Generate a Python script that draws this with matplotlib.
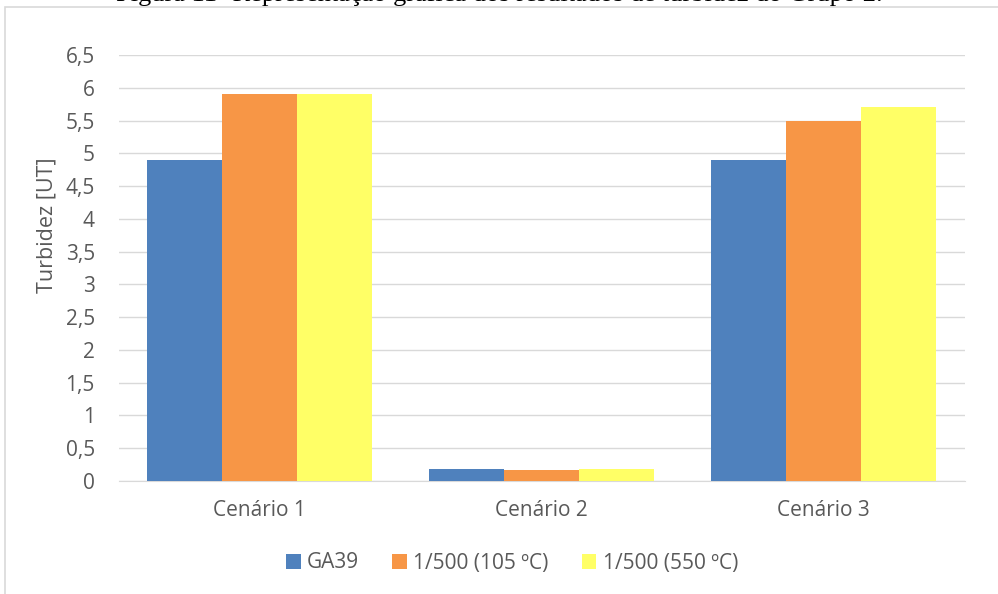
import numpy as np
import matplotlib.pyplot as plt
from matplotlib.patches import Rectangle

cenarios = ["Cenário 1", "Cenário 2", "Cenário 3"]
series = ["GA39", "1/500 (105 ºC)", "1/500 (550 ºC)"]
ga39 = [4.9, 0.18, 4.9]
c105 = [5.9, 0.17, 5.5]
c550 = [5.9, 0.18, 5.7]
yticks = [0, 0.5, 1, 1.5, 2, 2.5, 3, 3.5, 4, 4.5, 5, 5.5, 6, 6.5]
cores = ["#4F81BD", "#F79646", "#FFFF66"]

plt.rcParams['font.family'] = ['Open Sans', 'DejaVu Sans']
W, H = 998, 594
fig = plt.figure(figsize=(W / 100, H / 100), dpi=100)

# moldura do gráfico (cortada à direita e embaixo)
fig.patches.append(Rectangle((5 / W, -0.1), 1.2, 1 - 7 / H + 0.1, transform=fig.transFigure,
                             fill=False, edgecolor="#D9D9D9", linewidth=1.2))

# legenda da figura, cortada no topo como no original
fig.text(0.5, 1 - 0.5 / H, "Figura 11- Representação gráfica dos resultados de turbidez do Grupo 2.",
         ha="center", va="baseline", fontsize=19, family="Liberation Serif", color="black")

ax = fig.add_axes([118.5 / W, (H - 481) / H, (964.5 - 118.5) / W, (481 - 55) / H])
x = np.arange(len(cenarios))
w = 0.8 / 3
for i, (nome, vals) in enumerate(zip(series, [ga39, c105, c550])):
    ax.bar(x + (i - 1) * w, vals, w, color=cores[i], label=nome, zorder=3)

ax.set_xlim(-0.5, 2.5)
ax.set_ylim(0, 6.5)
ax.set_yticks(yticks)
ax.set_yticklabels([("%g" % v).replace(".", ",") for v in yticks])
ax.set_xticks(x)
ax.set_xticklabels(cenarios)
ax.grid(axis="y", color="#D9D9D9", linewidth=1, zorder=0)
for s in ["top", "right", "left"]:
    ax.spines[s].set_visible(False)
ax.spines["bottom"].set_color("#D9D9D9")
ax.tick_params(length=0, colors="#595959", labelsize=15)
ax.tick_params(axis="y", pad=17)
ax.tick_params(axis="x", pad=14)
ax.set_ylabel("Turbidez [UT]", fontsize=15.5, color="#595959")
ax.yaxis.set_label_coords(-0.072, 0.6)

ax.legend(loc="center", bbox_to_anchor=(512 / W, 1 - 563 / H), bbox_transform=fig.transFigure,
          ncol=3, frameon=False, fontsize=15, labelcolor="#595959",
          handlelength=0.7, handleheight=0.7, handletextpad=0.3, columnspacing=1.6)

fig.savefig("out.png", dpi=100)
